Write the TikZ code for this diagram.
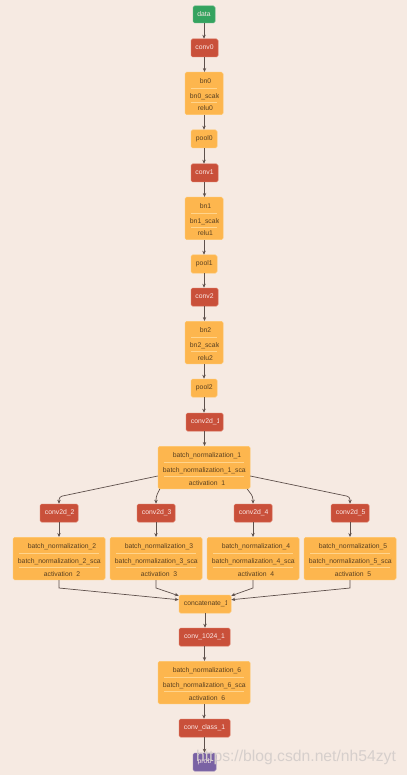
\documentclass[tikz,border=0pt]{standalone}
\usepackage{fontspec}
\setmainfont{Liberation Sans}
\usetikzlibrary{arrows.meta,calc}
\definecolor{bg}{HTML}{F6EAE2}
\definecolor{cred}{HTML}{C9503A}
\definecolor{credb}{HTML}{D96C55}
\definecolor{corg}{HTML}{FDB64E}
\definecolor{corgb}{HTML}{FFC466}
\definecolor{csep}{HTML}{FFD48C}
\definecolor{cgreen}{HTML}{34A35F}
\definecolor{cpurple}{HTML}{7A62A4}
\definecolor{cedge}{HTML}{5E504B}
\definecolor{tdark}{HTML}{5A4020}
\definecolor{tlight}{HTML}{FBE9E7}
\definecolor{wmark}{HTML}{D6CFCC}
\tikzset{
  basebox/.style={rounded corners=1.6pt, inner sep=0pt, line width=0.5pt},
  redbox/.style={basebox, fill=cred, draw=credb},
  orgbox/.style={basebox, fill=corg, draw=corgb},
  grnbox/.style={basebox, fill=cgreen, draw=cgreen!85!white},
  purbox/.style={basebox, fill=cpurple, draw=cpurple!85!white},
  lbl/.style={inner sep=0pt, font=\fontsize{6.8}{8}\selectfont, text height=4.9pt, text depth=1.4pt},
  ltxt/.style={lbl, text=tlight},
  dtxt/.style={lbl, text=tdark},
  sepline/.style={draw=csep, line width=0.6pt},
  edge/.style={draw=cedge, line width=0.7pt, -{Stealth[length=4pt,width=3.4pt]}},
  bedge/.style={edge, rounded corners=3pt},
}
% centred label: #1 box style, #2 text style, #3 name, #4 left, #5 top, #6 right, #7 bottom, #8 text
\newcommand\nodebox[8]{%
  \pgfmathsetmacro\nbw{#6-#4}\pgfmathsetmacro\nbh{#7-#5}%
  \pgfmathsetmacro\nbx{(#4+#6)/2}\pgfmathsetmacro\nby{-(#5+#7)/2}%
  \node[#1, minimum width=\nbw pt, minimum height=\nbh pt] (#3) at (\nbx,\nby) {};
  \node[#2] (#3-t) at (#3.center) {#8};}
% left-set, clipped label
\newcommand\nodeboxL[8]{%
  \pgfmathsetmacro\nbw{#6-#4}\pgfmathsetmacro\nbh{#7-#5}%
  \pgfmathsetmacro\nbx{(#4+#6)/2}\pgfmathsetmacro\nby{-(#5+#7)/2}%
  \node[#1, minimum width=\nbw pt, minimum height=\nbh pt] (#3) at (\nbx,\nby) {};
  \begin{scope}
    \clip ([xshift=4pt]#3.south west) rectangle ([xshift=-5pt]#3.north east);
    \node[#2, anchor=west] (#3-t) at ([xshift=5pt]#3.west) {#8};
  \end{scope}}
% #1 name, #2 left, #3 top, #4 right, #5 line1, #6 line2 (widest), #7 line3
\newcommand\bnblock[7]{%
  \pgfmathsetmacro\nbw{#4-#2}\pgfmathsetmacro\nbx{(#2+#4)/2}\pgfmathsetmacro\nby{-#3}%
  \node[orgbox, minimum width=\nbw pt, minimum height=42.5pt, anchor=north] (#1) at (\nbx,\nby) {};
  \draw[sepline] ($(#1.north west)+(6,-16)$) -- ($(#1.north east)+(-6,-16)$);
  \draw[sepline] ($(#1.north west)+(6,-30.5)$) -- ($(#1.north east)+(-6,-30.5)$);
  \begin{scope}
    \clip ($(#1.south west)+(4,5)$) rectangle ($(#1.north east)+(-5,0)$);
    \node[dtxt, anchor=base west] (#1-b) at ($(#1.north west)+(5,-26.5)$) {#6};
    \node[dtxt, anchor=base] (#1-a) at ($(#1-b.base)+(0,15)$) {#5};
    \node[dtxt, anchor=base] (#1-c) at ($(#1-b.base)+(0,-12.5)$) {#7};
  \end{scope}}
\newcommand\vedge[2]{\draw[edge] (#1.south) -- (#1.south |- #2.north);}
\begin{document}
\begin{tikzpicture}[x=1pt,y=1pt]
\useasboundingbox (0,0) rectangle (407,-775);
\fill[bg] (0,0) rectangle (407,-775);

\nodebox{grnbox}{ltxt}{data}{193}{6}{215}{23}{data}
\nodebox{redbox}{ltxt}{conv0}{191}{39}{218}{57}{conv0}
\bnblock{bn0}{185}{72}{223}{bn0}{bn0\_scale}{relu0}
\nodeboxL{orgbox}{dtxt}{pool0}{191}{130}{217}{148}{pool0}
\nodebox{redbox}{ltxt}{conv1}{191}{164}{218}{182}{conv1}
\bnblock{bn1}{185}{197}{223}{bn1}{bn1\_scale}{relu1}
\nodeboxL{orgbox}{dtxt}{pool1}{191}{255}{217}{273}{pool1}
\nodebox{redbox}{ltxt}{conv2}{191}{288}{218}{306}{conv2}
\bnblock{bn2}{185}{321}{223}{bn2}{bn2\_scale}{relu2}
\nodeboxL{orgbox}{dtxt}{pool2}{191}{379}{217}{397}{pool2}
\nodeboxL{redbox}{ltxt}{c1}{186}{413}{223}{431}{conv2d\_1}
\bnblock{bnA}{158}{446}{250}{batch\_normalization\_1}{batch\_normalization\_1\_scale}{activation\_1}

\nodeboxL{redbox}{ltxt}{c2}{40}{504}{78}{522}{conv2d\_2}
\nodeboxL{redbox}{ltxt}{c3}{137}{504}{175}{522}{conv2d\_3}
\nodeboxL{redbox}{ltxt}{c4}{234}{504}{272}{522}{conv2d\_4}
\nodeboxL{redbox}{ltxt}{c5}{331}{504}{369}{522}{conv2d\_5}
\bnblock{bnB}{13}{537}{105}{batch\_normalization\_2}{batch\_normalization\_2\_scale}{activation\_2}
\bnblock{bnC}{110}{537}{202}{batch\_normalization\_3}{batch\_normalization\_3\_scale}{activation\_3}
\bnblock{bnD}{207}{537}{299}{batch\_normalization\_4}{batch\_normalization\_4\_scale}{activation\_4}
\bnblock{bnE}{304}{537}{396}{batch\_normalization\_5}{batch\_normalization\_5\_scale}{activation\_5}

\nodeboxL{orgbox}{dtxt}{cc}{179}{595}{231}{613}{concatenate\_1}
\nodebox{redbox}{ltxt}{c1024}{179}{628}{230}{646}{conv\_1024\_1}
\bnblock{bnF}{158}{661}{250}{batch\_normalization\_6}{batch\_normalization\_6\_scale}{activation\_6}
\nodebox{redbox}{ltxt}{ccls}{179}{719}{230}{737}{conv\_class\_1}
\nodebox{purbox}{ltxt}{prob}{193}{753}{216}{771}{prob}

% main column edges
\vedge{data}{conv0}
\vedge{conv0}{bn0}
\vedge{bn0}{pool0}
\vedge{pool0}{conv1}
\vedge{conv1}{bn1}
\vedge{bn1}{pool1}
\vedge{pool1}{conv2}
\vedge{conv2}{bn2}
\vedge{bn2}{pool2}
\vedge{pool2}{c1}
\vedge{c1}{bnA}

% branches
\draw[bedge] ($(bnA.south west)+(0,13)$) -- ($(c2.north)+(0,7)$) -- (c2.north);
\draw[bedge] ($(bnA.south west)+(2,0)$) -- ($(c3.north)+(0,7)$) -- (c3.north);
\draw[bedge] ($(bnA.south east)+(-3,0)$) -- ($(c4.north)+(0,7)$) -- (c4.north);
\draw[bedge] ($(bnA.south east)+(0,13)$) -- ($(c5.north)+(0,7)$) -- (c5.north);
\vedge{c2}{bnB}
\vedge{c3}{bnC}
\vedge{c4}{bnD}
\vedge{c5}{bnE}

% merge
\draw[edge] (bnB.south) -- ++(0,-8) -- ($(cc.north west)+(0,-5)$);
\draw[edge] (bnC.south) -- ++(0,-8) -- ($(cc.north west)+(0,-1)$);
\draw[edge] (bnD.south) -- ++(0,-8) -- ($(cc.north east)+(0,-1)$);
\draw[edge] (bnE.south) -- ++(0,-8) -- ($(cc.north east)+(0,-5)$);

\vedge{cc}{c1024}
\vedge{c1024}{bnF}
\vedge{bnF}{ccls}
\vedge{ccls}{prob}

\node[font=\fontsize{15.7}{18}\selectfont, text=wmark, inner sep=0pt] (wm) at (296,-757) {https://blog.csdn.net/nh54zyt};
\end{tikzpicture}
\end{document}
